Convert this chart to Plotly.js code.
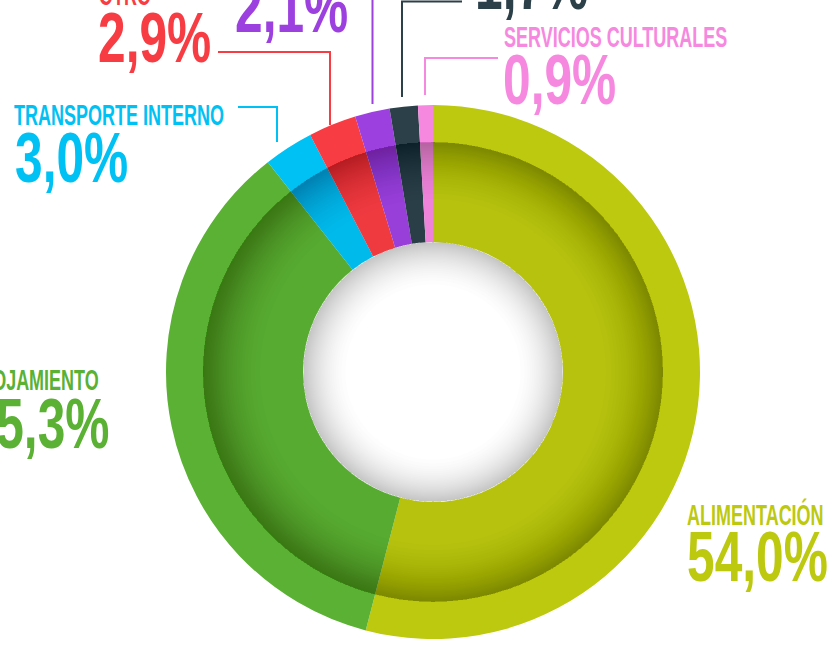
<!DOCTYPE html>
<html><head><meta charset="utf-8">
<script src="https://cdn.plot.ly/plotly-3.0.1.min.js"></script>
<style>html,body{margin:0;padding:0;background:#fff;overflow:hidden}#chart{width:827px;height:668px}</style>
</head><body><div id="chart"></div>
<script>
// ---- data ----
const categories = ["ALIMENTACIÓN","ALOJAMIENTO","TRANSPORTE INTERNO","OTRO","COMPRAS","RECREACIÓN","SERVICIOS CULTURALES"];
const shares = [54.0, 35.3, 3.0, 2.9, 2.1, 1.7, 0.9];
const colors = ["#BCC90F","#5AB133","#00C1F3","#F73C43","#9D40E0","#2C404A","#F688E0"];
const shareLabels = shares.map(v => v.toFixed(1).replace('.', ',') + '%');

// ---- geometry / style (not data) ----
const W = 827, H = 668, CX = 433, CY = 372;
const R_OUT = 267, R_RING = 230, R_HOLE = 130;
const px = x => x / W, py = y => (H - y) / H;
function dom(r){ return {x:[(CX-r)/W,(CX+r)/W], y:[(H-CY-r)/H,(H-CY+r)/H]}; }

const traces = [];
traces.push({
  type:'pie', values:shares, labels:categories, sort:false, direction:'clockwise', rotation:0,
  hole:R_HOLE/R_OUT, domain:dom(R_OUT), textinfo:'none',
  marker:{colors:colors, line:{width:0}}, hoverinfo:'label+percent'
});
// decorative shading rings (single full ring, no data)
function shadeRing(rOuter, rInner, alpha){
  traces.push({
    type:'pie', values:[1], labels:['shade'], sort:false, showlegend:false,
    hole:rInner/rOuter, domain:dom(rOuter), textinfo:'none',
    marker:{colors:['rgba(0,0,0,'+alpha+')'], line:{width:0}}, hoverinfo:'skip'
  });
}
// inner ring: slight overall darkening + gradient towards its outer edge
shadeRing(R_RING, R_HOLE, 0.03);
const NS = 30;
for (let k = 0; k < NS; k++){
  const t = Math.sqrt((k+1)/NS);
  const rin = 160 + (R_RING-0.5-160)*t;
  shadeRing(R_RING, rin, 0.0085);
}
// hole: grey towards the rim
const NH = 30;
for (let k = 0; k < NH; k++){
  const t = Math.sqrt((k+1)/NH);
  const rin = 78 + (R_HOLE-0.5-78)*t;
  shadeRing(R_HOLE, rin, 0.0095);
}

// ---- labels ----
const place = [
  {name:{x:686,y:514,a:'left'},  num:{x:686,y:557,a:'left'}},
  {name:{x:100,y:380,a:'right'}, num:{x:110,y:424,a:'right'}},
  {name:{x:13,y:114.5,a:'left'}, num:{x:14,y:157.5,a:'left'}},
  {name:{x:98,y:-6,a:'left'},    num:{x:97,y:38,a:'left'}},
  {name:null,                    num:{x:234,y:8,a:'left'}},
  {name:null,                    num:{x:474,y:-15,a:'left'}},
  {name:{x:503,y:37,a:'left'},   num:{x:502,y:80,a:'left'}}
];
const NAME_SIZE = 30, NUM_SIZE = 70, NAME_SCALE = 0.6, NUM_SCALE = 0.71;
const annotations = [], scales = [];
place.forEach((p,i) => {
  if (p.name){
    annotations.push({xref:'paper',yref:'paper',x:px(p.name.x),y:py(p.name.y),xanchor:p.name.a,yanchor:'middle',
      text:categories[i],showarrow:false,borderpad:0,
      font:{family:'Liberation Sans, Arial, sans-serif',size:NAME_SIZE,color:colors[i],weight:700}});
    scales.push({s:NAME_SCALE,a:p.name.a});
  }
  annotations.push({xref:'paper',yref:'paper',x:px(p.num.x),y:py(p.num.y),xanchor:p.num.a,yanchor:'middle',
    text:shareLabels[i],showarrow:false,borderpad:0,
    font:{family:'Liberation Sans, Arial, sans-serif',size:NUM_SIZE,color:colors[i],weight:700}});
  scales.push({s:NUM_SCALE,a:p.num.a});
});

// ---- leader lines ----
const leaders = [
  {c:6, pts:[[498,58],[425,58],[425,95]]},
  {c:5, pts:[[462,1.5],[402,1.5],[402,97]]},
  {c:4, pts:[[372.5,-5],[372.5,104]]},
  {c:3, pts:[[218,52],[330,52],[330,125]]},
  {c:2, pts:[[238,107],[277,107],[277,142]]}
];
const shapes = leaders.map(l => ({
  type:'path', xref:'paper', yref:'paper',
  path: l.pts.map((q,j)=>(j?'L':'M')+px(q[0]).toFixed(5)+','+py(q[1]).toFixed(5)).join(' '),
  line:{color:colors[l.c], width:2}
}));

const layout = {
  width:W, height:H, margin:{l:0,r:0,t:0,b:0}, showlegend:false,
  paper_bgcolor:'#ffffff', plot_bgcolor:'#ffffff',
  annotations:annotations, shapes:shapes
};

Plotly.newPlot('chart', traces, layout, {displayModeBar:false, staticPlot:true}).then(() => {
  document.querySelectorAll('#chart g.annotation').forEach(g => {
    const idx = +g.getAttribute('data-index');
    const t = g.querySelector('text.annotation-text');
    if (!t || !scales[idx]) return;
    const bb = t.getBBox();
    const ax = scales[idx].a === 'right' ? bb.x + bb.width : bb.x;
    const s = scales[idx].s;
    t.setAttribute('transform', 'translate(' + ax + ',0) scale(' + s + ',1) translate(' + (-ax) + ',0)');
    const r = g.querySelector('rect.bg');
    if (r) {
      const rw = +r.getAttribute('width'), rx = +(r.getAttribute('x') || 0);
      const nw = rw * s;
      r.setAttribute('width', nw);
      if (scales[idx].a === 'right') r.setAttribute('x', rx + rw - nw);
    }
  });
});
</script></body></html>
